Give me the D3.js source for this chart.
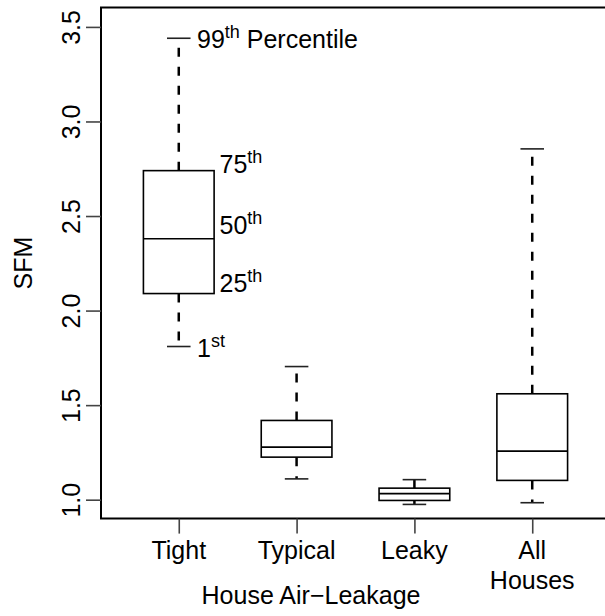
<!DOCTYPE html>
<html>
<head>
<meta charset="utf-8">
<script src="https://cdn.jsdelivr.net/npm/d3@7"></script>
<style>
  body { margin: 0; background: #fff; overflow: hidden; }
  svg { display: block; }
  svg text { font-family: "Liberation Sans", Arial, Helvetica, sans-serif; fill: #000; }
</style>
</head>
<body>
<div id="chart"></div>
<script>
// categories (two-line labels split by \n)
const categories = ['Tight', 'Typical', 'Leaky', 'All\nHouses'];
// box statistics: 1st, 25th, 50th, 75th, 99th percentile
const p01 = [1.81, 1.11, 0.975, 0.984];
const p25 = [2.09, 1.225, 0.996, 1.102];
const p50 = [2.38, 1.278, 1.032, 1.257];
const p75 = [2.74, 1.419, 1.061, 1.56];
const p99 = [3.44, 1.704, 1.106, 2.855];
const yTicks = [1.0, 1.5, 2.0, 2.5, 3.0, 3.5];

// percentile annotations next to the first box (anchor in data units)
const annNum = ['99', '75', '50', '25', '1'];
const annSup = ['th', 'th', 'th', 'th', 'st'];
const annRest = [' Percentile', '', '', '', ''];
const annX = [1.155, 1.346, 1.346, 1.346, 1.155];
const annY = [3.39, 2.73, 2.404, 2.096, 1.757];

const w = 605;
const h = 616;
const padLeft = 101, padTop = 7.5, padBottom = 518.6, padRight = 610;

const svg = d3.select('#chart')
              .append('svg')
              .attr('width', w)
              .attr('height', h);

const xScale = d3.scaleLinear()
                 .domain([0.34, 4.66])
                 .range([padLeft, padRight]);
const yScale = d3.scaleLinear()
                 .domain([0.9, 3.6])
                 .range([padBottom, padTop + 0.5]);

const boxHalf = 0.3;
const capHalf = 0.1;

const boxes = svg.selectAll('g.box')
                 .data(categories)
                 .enter()
                 .append('g')
                 .attr('class', 'box');

// whiskers (dashed)
boxes.append('line')
     .attr('x1', (d, i) => xScale(i + 1))
     .attr('x2', (d, i) => xScale(i + 1))
     .attr('y1', (d, i) => yScale(p75[i]))
     .attr('y2', (d, i) => yScale(p99[i]))
     .attr('stroke', '#000')
     .attr('stroke-width', 2.5)
     .attr('stroke-dasharray', '9,10');
boxes.append('line')
     .attr('x1', (d, i) => xScale(i + 1))
     .attr('x2', (d, i) => xScale(i + 1))
     .attr('y1', (d, i) => yScale(p25[i]))
     .attr('y2', (d, i) => yScale(p01[i]))
     .attr('stroke', '#000')
     .attr('stroke-width', 2.5)
     .attr('stroke-dasharray', '9,10');

// caps
[p99, p01].forEach(arr => {
  boxes.append('line')
       .attr('x1', (d, i) => xScale(i + 1 - capHalf))
       .attr('x2', (d, i) => xScale(i + 1 + capHalf))
       .attr('y1', (d, i) => yScale(arr[i]))
       .attr('y2', (d, i) => yScale(arr[i]))
       .attr('stroke', '#222')
       .attr('stroke-width', 1.6);
});

// boxes
boxes.append('rect')
     .attr('x', (d, i) => xScale(i + 1 - boxHalf))
     .attr('width', xScale(1 + boxHalf) - xScale(1 - boxHalf))
     .attr('y', (d, i) => yScale(p75[i]))
     .attr('height', (d, i) => yScale(p25[i]) - yScale(p75[i]))
     .attr('fill', '#fff')
     .attr('stroke', '#000')
     .attr('stroke-width', 1.6);

// medians
boxes.append('line')
     .attr('x1', (d, i) => xScale(i + 1 - boxHalf))
     .attr('x2', (d, i) => xScale(i + 1 + boxHalf))
     .attr('y1', (d, i) => yScale(p50[i]))
     .attr('y2', (d, i) => yScale(p50[i]))
     .attr('stroke', '#000')
     .attr('stroke-width', 1.6);

// frame (right side lies outside the picture)
svg.append('path')
   .attr('d', 'M' + (padRight + 20) + ',' + padTop + 'H' + padLeft + 'V' + padBottom + 'H' + (padRight + 20))
   .attr('fill', 'none')
   .attr('stroke', '#000')
   .attr('stroke-width', 2);

// y axis
const yAxis = d3.axisLeft(yScale)
                .tickValues(yTicks)
                .tickSize(15)
                .tickFormat(d3.format('.1f'));
const gy = svg.append('g')
              .attr('transform', 'translate(' + padLeft + ', 0)')
              .call(yAxis);
gy.select('.domain').remove();
gy.selectAll('.tick line').attr('stroke', '#444').attr('stroke-width', 1.6);
gy.selectAll('.tick text')
  .attr('x', 0)
  .attr('dy', 0)
  .attr('transform', 'translate(-21, 0) rotate(-90)')
  .attr('text-anchor', 'middle')
  .attr('font-size', 25)
  .attr('font-family', null)
  .attr('fill', '#000');

// x axis
const xAxis = d3.axisBottom(xScale)
                .tickValues(categories.map((d, i) => i + 1))
                .tickSize(15)
                .tickFormat('');
const gx = svg.append('g')
              .attr('transform', 'translate(0, ' + padBottom + ')')
              .call(xAxis);
gx.select('.domain').remove();
gx.selectAll('.tick line').attr('stroke', '#444').attr('stroke-width', 1.6);

categories.forEach((c, i) => {
  const t = svg.append('text')
               .attr('x', xScale(i + 1))
               .attr('y', padBottom + 40.7)
               .attr('text-anchor', 'middle')
               .attr('font-size', 25);
  c.split('\n').forEach((part, j) => {
    t.append('tspan')
     .attr('x', xScale(i + 1))
     .attr('dy', j === 0 ? 0 : 30)
     .text(part);
  });
});

// axis titles
svg.append('text')
   .text('House Air\u2212Leakage')
   .attr('x', 311)
   .attr('y', 604)
   .attr('text-anchor', 'middle')
   .attr('font-size', 25);

svg.append('text')
   .text('SFM')
   .attr('transform', 'translate(32, ' + ((padTop + padBottom) / 2) + ') rotate(-90)')
   .attr('text-anchor', 'middle')
   .attr('font-size', 25);

// percentile annotations
annNum.forEach((n, i) => {
  const t = svg.append('text')
               .attr('x', xScale(annX[i]))
               .attr('y', yScale(annY[i]))
               .attr('font-size', 25);
  t.append('tspan').text(n);
  t.append('tspan')
   .attr('font-size', 18)
   .attr('dy', -10)
   .text(annSup[i]);
  if (annRest[i]) {
    t.append('tspan')
     .attr('dy', 10)
     .text(annRest[i]);
  }
});
</script>
</body>
</html>
